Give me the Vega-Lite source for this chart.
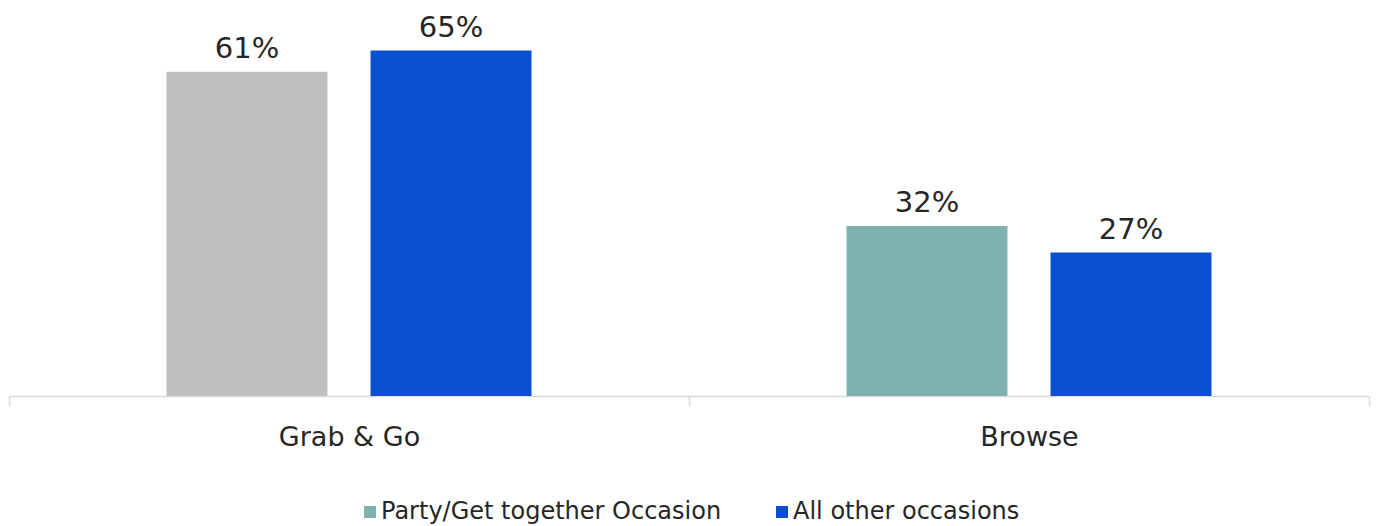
{
  "$schema": "https://vega.github.io/schema/vega-lite/v6.json",
  "width": 1360,
  "height": 372,
  "autosize": {"type": "none"},
  "padding": {"left": 9, "top": 24, "right": 10, "bottom": 130},
  "background": "white",
  "config": {
    "view": {"stroke": null},
    "font": "DejaVu Sans",
    "legend": {"layout": {"bottom": {"anchor": "middle"}}}
  },
  "data": {
    "values": [
      {"category": "Grab & Go", "series": "Party/Get together Occasion", "value": 0.61},
      {"category": "Grab & Go", "series": "All other occasions", "value": 0.65},
      {"category": "Browse", "series": "Party/Get together Occasion", "value": 0.32},
      {"category": "Browse", "series": "All other occasions", "value": 0.27}
    ]
  },
  "encoding": {
    "x": {
      "field": "category",
      "type": "nominal",
      "sort": ["Grab & Go", "Browse"],
      "scale": {"paddingInner": 0, "paddingOuter": 0},
      "title": null,
      "axis": {
        "domainColor": "#D9D9D9",
        "domainWidth": 1.5,
        "tickColor": "#D9D9D9",
        "tickWidth": 1.5,
        "tickSize": 10,
        "tickBand": "extent",
        "labelFontSize": 27,
        "labelColor": "#262626",
        "labelPadding": 18,
        "labelAngle": 0
      }
    },
    "xOffset": {
      "field": "series",
      "type": "nominal",
      "sort": ["Party/Get together Occasion", "All other occasions"],
      "scale": {"paddingInner": 0.211, "paddingOuter": 0.772}
    },
    "y": {
      "field": "value",
      "type": "quantitative",
      "scale": {"domain": [0, 0.7], "nice": false},
      "axis": null
    }
  },
  "layer": [
    {
      "mark": {"type": "bar"},
      "encoding": {
        "color": {
          "condition": {
            "test": "datum.category === 'Grab & Go' && datum.series === 'Party/Get together Occasion'",
            "value": "#BFBFBF"
          },
          "field": "series",
          "type": "nominal",
          "scale": {
            "domain": ["Party/Get together Occasion", "All other occasions"],
            "range": ["#7FB2AE", "#0B50D0"]
          },
          "legend": {
            "orient": "bottom",
            "direction": "horizontal",
            "title": null,
            "symbolType": "square",
            "symbolSize": 144,
            "symbolStrokeWidth": 0,
            "labelFontSize": 24,
            "labelColor": "#262626",
            "labelLimit": 0,
            "columnPadding": 48,
            "labelOffset": -1,
            "offset": 50
          }
        }
      }
    },
    {
      "mark": {"type": "text", "baseline": "alphabetic", "dy": -14, "fontSize": 29, "color": "#262626"},
      "encoding": {
        "text": {"field": "value", "type": "quantitative", "format": ".0%"}
      }
    }
  ]
}
